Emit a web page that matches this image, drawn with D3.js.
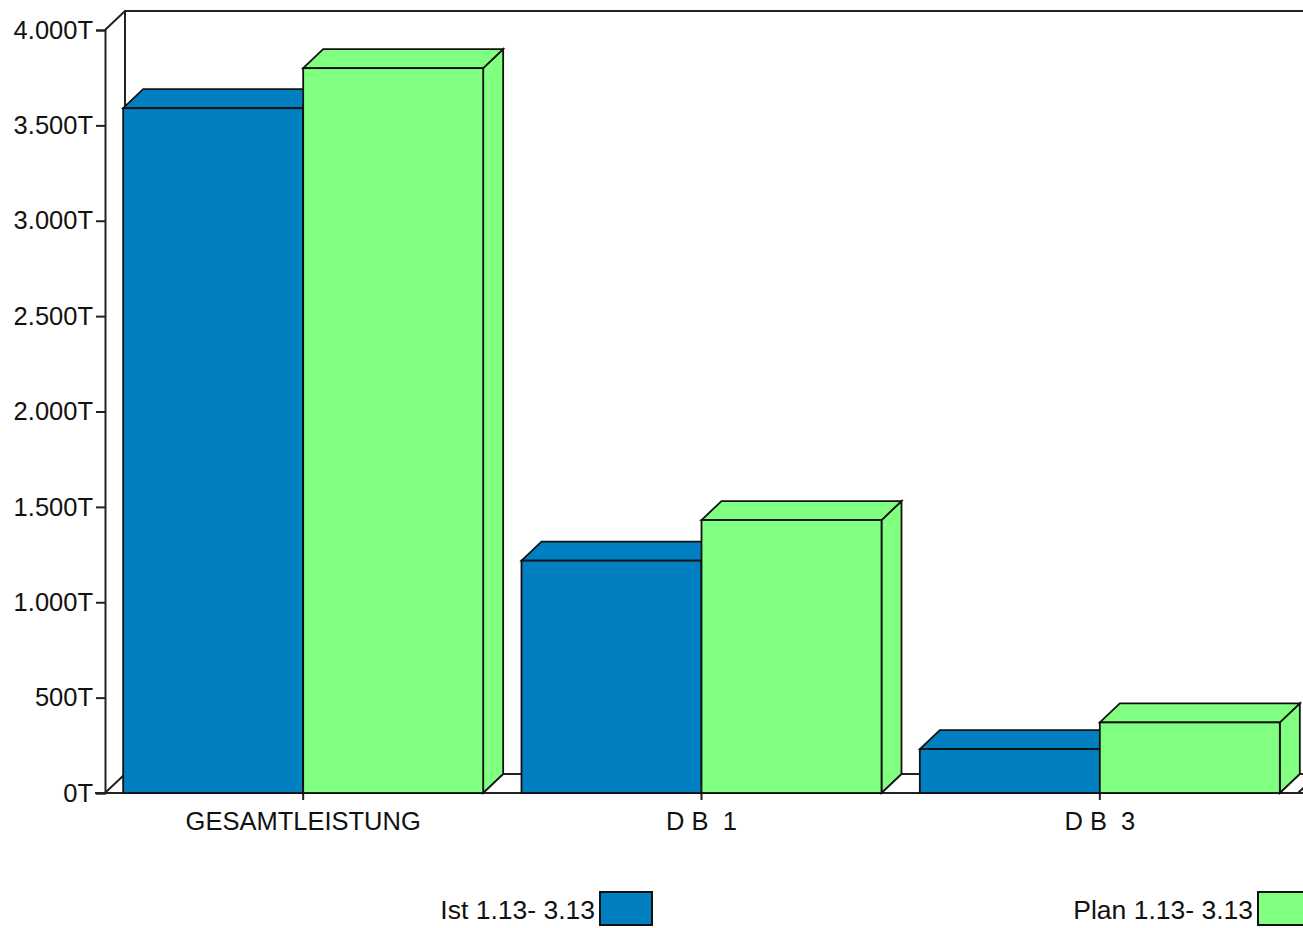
<!DOCTYPE html>
<html>
<head>
<meta charset="utf-8">
<script src="https://cdn.jsdelivr.net/npm/d3@7"></script>
<style>
  body { margin: 0; background: #fff; }
  svg { display: block; }
  text { font-family: "Liberation Sans", Arial, sans-serif; font-size: 25.5px; fill: #111; white-space: pre; }
  .legend text { font-size: 26.5px; }
</style>
</head>
<body>
<svg id="chart" width="1303" height="928"></svg>
<script>
// Data
const categories = ["GESAMTLEISTUNG", "D B  1", "D B  3"];
const seriesNames = ["Ist 1.13- 3.13", "Plan 1.13- 3.13"];
const istValues = [3590, 1218, 230];
const planValues = [3800, 1431, 370];
const yTickValues = [0, 500, 1000, 1500, 2000, 2500, 3000, 3500, 4000];
const seriesColors = ["#0080C0", "#80FF80"];

// Layout
const plot = { left: 105, right: 1298, top: 30, bottom: 793 };
const depthX = 20, depthY = 19;
const barWidth = 180;

const svg = d3.select("#chart");

const deLocale = d3.formatLocale({ decimal: ",", thousands: ".", grouping: [3], currency: ["", "€"] });
const fmt = v => deLocale.format(",")(v) + "T";

const y = d3.scaleLinear().domain([0, 4000]).range([plot.bottom, plot.top]);
const x0 = d3.scaleBand().domain(categories).range([plot.left - 1, plot.right + 1]).padding(0);
const x1 = d3.scaleBand().domain(seriesNames).range([-barWidth, barWidth]).padding(0);
const center = c => x0(c) + x0.bandwidth() / 2;

const lineColor = "#222";

// Back wall, side wall and floor
const frame = svg.append("g").attr("fill", "none").attr("stroke", lineColor).attr("stroke-width", 2);
frame.append("path").attr("d",
  `M${plot.left},${plot.top} L${plot.left + depthX},${plot.top - depthY} L1400,${plot.top - depthY}`);
frame.append("line").attr("x1", plot.left + depthX).attr("x2", plot.left + depthX)
  .attr("y1", plot.top - depthY).attr("y2", plot.bottom - depthY);
frame.append("path").attr("d",
  `M${plot.left},${plot.bottom} L${plot.left + depthX},${plot.bottom - depthY} ` +
  `L${plot.right + depthX},${plot.bottom - depthY} L${plot.right},${plot.bottom}`);

// Y axis
const yAxis = d3.axisLeft(y).tickValues(yTickValues).tickFormat(fmt).tickSize(9).tickPadding(3);
const yg = svg.append("g").attr("transform", `translate(${plot.left},0)`).call(yAxis);
yg.select(".domain").attr("stroke", lineColor).attr("stroke-width", 2);
yg.selectAll(".tick line").attr("stroke", lineColor).attr("stroke-width", 2);
yg.selectAll(".tick text").attr("font-size", null).attr("font-family", null).attr("fill", null);
yg.attr("font-size", null).attr("font-family", null);

// X axis
svg.append("line").attr("x1", plot.left - 10).attr("x2", plot.right + 10)
  .attr("y1", plot.bottom).attr("y2", plot.bottom).attr("stroke", lineColor).attr("stroke-width", 2);
const xg = svg.append("g");
xg.selectAll("line").data(categories).join("line")
  .attr("x1", d => center(d)).attr("x2", d => center(d))
  .attr("y1", plot.bottom).attr("y2", plot.bottom + 7)
  .attr("stroke", lineColor).attr("stroke-width", 2);
xg.selectAll("text").data(categories).join("text")
  .attr("x", d => center(d)).attr("y", 830)
  .attr("text-anchor", "middle").text(d => d);

// 3D bars
const bars = [];
categories.forEach((c, i) => {
  bars.push({ cat: c, s: 0, v: istValues[i] });
  bars.push({ cat: c, s: 1, v: planValues[i] });
});

const barG = svg.append("g").attr("stroke", "#111").attr("stroke-width", 1.8).attr("stroke-linejoin", "miter");
bars.forEach(b => {
  const xa = center(b.cat) + x1(seriesNames[b.s]);
  const xb = xa + x1.bandwidth();
  const yt = y(b.v), yb = y(0);
  const g = barG.append("g").attr("fill", seriesColors[b.s]);
  // side face
  g.append("path").attr("d",
    `M${xb},${yb} L${xb + depthX},${yb - depthY} L${xb + depthX},${yt - depthY} L${xb},${yt} Z`);
  // top face
  g.append("path").attr("d",
    `M${xa},${yt} L${xa + depthX},${yt - depthY} L${xb + depthX},${yt - depthY} L${xb},${yt} Z`);
  // front face
  g.append("rect").attr("x", xa).attr("y", yt).attr("width", xb - xa).attr("height", yb - yt);
});

// Legend
const legendItems = [
  { name: seriesNames[0], color: seriesColors[0], boxX: 600 },
  { name: seriesNames[1], color: seriesColors[1], boxX: 1258 }
];
const lg = svg.append("g").attr("class", "legend");
legendItems.forEach(d => {
  lg.append("rect").attr("x", d.boxX).attr("y", 892).attr("width", 52).attr("height", 33)
    .attr("fill", d.color).attr("stroke", "#111").attr("stroke-width", 2);
  lg.append("text").attr("x", d.boxX - 5).attr("y", 919).attr("text-anchor", "end").text(d.name);
});
</script>
</body>
</html>
